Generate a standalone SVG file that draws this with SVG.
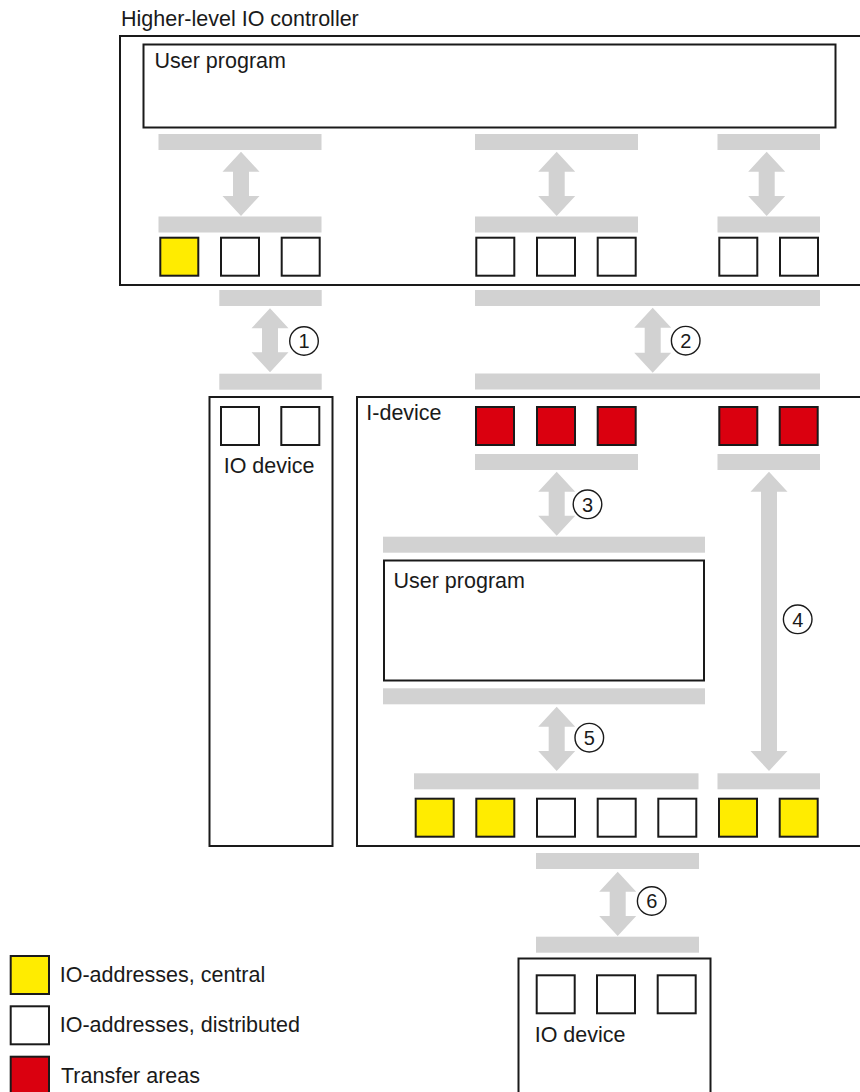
<svg xmlns="http://www.w3.org/2000/svg" width="860" height="1092" viewBox="0 0 860 1092">
<defs>
<style>
text{font-family:"Liberation Sans",Arial,sans-serif;font-size:21.5px;fill:#1a1a1a}
.box{fill:#fff;stroke:#1a1a1a;stroke-width:2}
.bar{fill:#d2d2d2}
.arr{fill:#d2d2d2}
.sq{stroke:#1a1a1a;stroke-width:2}
.y{fill:#ffec00}
.w{fill:#fff}
.r{fill:#da000f}
.num circle{fill:#fff;stroke:#1a1a1a;stroke-width:1.4}
.num text{font-size:20px;text-anchor:middle}
</style>
</defs>
<rect width="860" height="1092" fill="#fff"/>

<g id="controller">
<text x="121" y="26">Higher-level IO controller</text>
<rect class="box" x="120" y="36" width="760" height="249"/>
<g id="controller-program">
<rect class="box" x="143.5" y="44.5" width="692" height="83"/>
<text x="154.5" y="68">User program</text>
</g>
<rect class="bar" x="158.5" y="134" width="163" height="16"/>
<rect class="bar" x="475" y="134" width="163" height="16"/>
<rect class="bar" x="717.5" y="134" width="102.5" height="16"/>
<rect class="bar" x="158.5" y="216.5" width="163" height="16"/>
<rect class="bar" x="475" y="216.5" width="163" height="16"/>
<rect class="bar" x="717.5" y="216.5" width="102.5" height="16"/>
<rect class="sq y" x="160.3" y="237.7" width="38" height="38"/>
<rect class="sq w" x="221" y="237.7" width="38" height="38"/>
<rect class="sq w" x="281.7" y="237.7" width="38" height="38"/>
<rect class="sq w" x="476.3" y="237.7" width="38" height="38"/>
<rect class="sq w" x="537" y="237.7" width="38" height="38"/>
<rect class="sq w" x="597.7" y="237.7" width="38" height="38"/>
<rect class="sq w" x="719.3" y="237.7" width="38" height="38"/>
<rect class="sq w" x="780" y="237.7" width="38" height="38"/>
</g>

<g id="io-device-1">
<rect class="box" x="209.5" y="397" width="123" height="449"/>
<rect class="sq w" x="221" y="407" width="38" height="38"/>
<rect class="sq w" x="281.3" y="407" width="38" height="38"/>
<text x="223.7" y="472.7">IO device</text>
</g>

<g id="i-device">
<rect class="box" x="357" y="397" width="520" height="449"/>
<text x="366.3" y="420">I-device</text>
<rect class="sq r" x="476" y="407" width="38" height="38"/>
<rect class="sq r" x="537" y="407" width="38" height="38"/>
<rect class="sq r" x="597.7" y="407" width="38" height="38"/>
<rect class="sq r" x="719.3" y="407" width="38" height="38"/>
<rect class="sq r" x="779.7" y="407" width="38" height="38"/>
<rect class="bar" x="475" y="454" width="163" height="16"/>
<rect class="bar" x="717.5" y="454" width="102.5" height="16"/>
<rect class="bar" x="383" y="536.7" width="322" height="16"/>
<g id="i-device-program">
<rect class="box" x="384" y="560.5" width="320" height="120"/>
<text x="393.5" y="587.7">User program</text>
</g>
<rect class="bar" x="383" y="688.3" width="322" height="16"/>
<rect class="bar" x="414" y="773.3" width="284.5" height="16"/>
<rect class="bar" x="717.5" y="773.3" width="102.5" height="16"/>
<rect class="sq y" x="415.7" y="798.7" width="38" height="38"/>
<rect class="sq y" x="476.3" y="798.7" width="38" height="38"/>
<rect class="sq w" x="537" y="798.7" width="38" height="38"/>
<rect class="sq w" x="597.7" y="798.7" width="38" height="38"/>
<rect class="sq w" x="658.3" y="798.7" width="38" height="38"/>
<rect class="sq y" x="719" y="798.7" width="38" height="38"/>
<rect class="sq y" x="779.7" y="798.7" width="38" height="38"/>
</g>

<g id="io-device-2">
<rect class="box" x="518.5" y="958.5" width="192" height="150"/>
<rect class="sq w" x="536.7" y="975.3" width="38" height="38"/>
<rect class="sq w" x="597" y="975.3" width="38" height="38"/>
<rect class="sq w" x="657.7" y="975.3" width="38" height="38"/>
<text x="534.7" y="1041.7">IO device</text>
</g>

<g id="connectors">
<rect class="bar" x="219.3" y="290" width="102.4" height="16"/>
<rect class="bar" x="475" y="290" width="345" height="16"/>
<rect class="bar" x="219.3" y="373.7" width="102.4" height="16"/>
<rect class="bar" x="475" y="373.5" width="345" height="16"/>
<rect class="bar" x="536" y="853" width="163" height="16"/>
<rect class="bar" x="536" y="936.7" width="163" height="16"/>
<!-- internal controller arrows -->
<path class="arr" d="M241,151.7 l18.5,20 h-10.5 v24.3 h10.5 l-18.5,20 l-18.5,-20 h10.5 v-24.3 h-10.5 Z"/>
<path class="arr" d="M556.7,151.7 l18.5,20 h-10.5 v24.3 h10.5 l-18.5,20 l-18.5,-20 h10.5 v-24.3 h-10.5 Z"/>
<path class="arr" d="M766.7,151.7 l18.5,20 h-10.5 v24.3 h10.5 l-18.5,20 l-18.5,-20 h10.5 v-24.3 h-10.5 Z"/>
<!-- 1 -->
<path class="arr" d="M270,308.3 l18.5,20 h-10.5 v24 h10.5 l-18.5,20 l-18.5,-20 h10.5 v-24 h-10.5 Z"/>
<!-- 2 -->
<path class="arr" d="M652.7,307.7 l18.5,20 h-10.5 v25 h10.5 l-18.5,20 l-18.5,-20 h10.5 v-25 h-10.5 Z"/>
<!-- 3 -->
<path class="arr" d="M556.7,471.7 l18.5,20 h-10.5 v24 h10.5 l-18.5,20 l-18.5,-20 h10.5 v-24 h-10.5 Z"/>
<!-- 4 -->
<path class="arr" d="M769,471.7 l18.5,20 h-10.5 v259.3 h10.5 l-18.5,20 l-18.5,-20 h10.5 v-259.3 h-10.5 Z"/>
<!-- 5 -->
<path class="arr" d="M556.7,706.7 l18.5,20 h-10.5 v24.3 h10.5 l-18.5,20 l-18.5,-20 h10.5 v-24.3 h-10.5 Z"/>
<!-- 6 -->
<path class="arr" d="M617.7,871.7 l18.5,20 h-10.5 v24.3 h10.5 l-18.5,20 l-18.5,-20 h10.5 v-24.3 h-10.5 Z"/>
<g class="num" id="n1"><circle cx="304" cy="341" r="14.3"/><text x="304" y="348.2">1</text></g>
<g class="num" id="n2"><circle cx="685.7" cy="340.7" r="14.3"/><text x="685.7" y="347.9">2</text></g>
<g class="num" id="n3"><circle cx="587.5" cy="504.3" r="14.3"/><text x="587.5" y="511.5">3</text></g>
<g class="num" id="n4"><circle cx="797.7" cy="619.3" r="14.3"/><text x="797.7" y="626.5">4</text></g>
<g class="num" id="n5"><circle cx="589.3" cy="737.7" r="14.3"/><text x="589.3" y="744.9">5</text></g>
<g class="num" id="n6"><circle cx="651.7" cy="901" r="14.3"/><text x="651.7" y="908.2">6</text></g>
</g>

<g id="legend">
<rect class="sq y" x="10.7" y="956" width="38.3" height="38"/>
<text x="59.7" y="981.7">IO-addresses, central</text>
<rect class="sq w" x="10.7" y="1006.3" width="38.3" height="38"/>
<text x="59.7" y="1032.3">IO-addresses, distributed</text>
<rect class="sq r" x="10.7" y="1056.7" width="38.3" height="38"/>
<text x="61" y="1083.3">Transfer areas</text>
</g>
</svg>
